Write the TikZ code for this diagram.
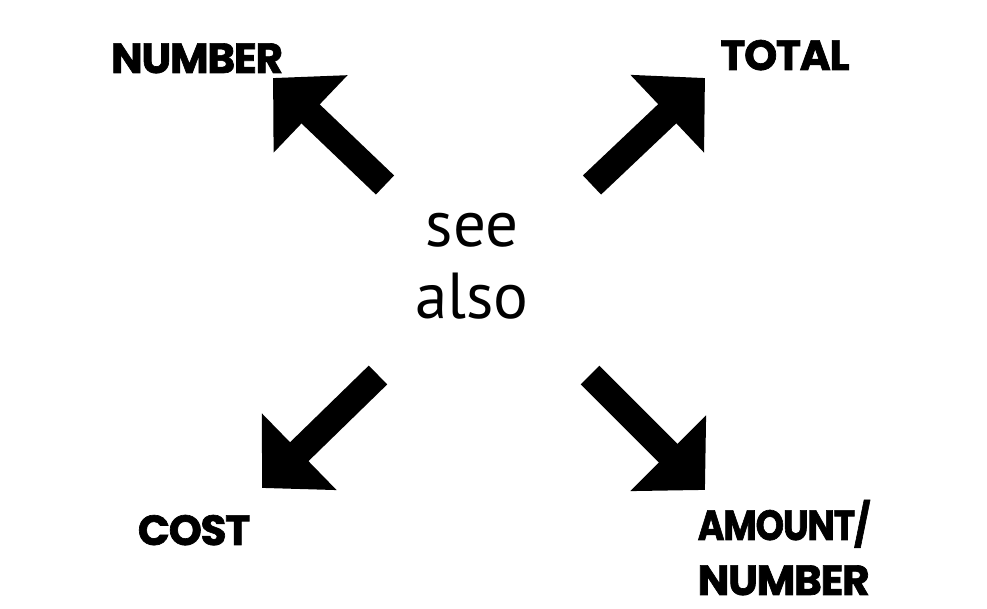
\documentclass[tikz,border=0pt]{standalone}
\usepackage{fontspec}
\setmainfont{PT Sans}
\newfontfamily\headfont{Poppins}[LetterSpace=-3,BoldFeatures={FakeBold=1.6}]
\usetikzlibrary{arrows.meta}
\definecolor{Ink}{HTML}{000000}

\begin{document}
\begin{tikzpicture}[
    wordlabel/.style={font=\headfont\bfseries\fontsize{12}{14}\selectfont,inner sep=0pt,text=Ink},
    seealso/.style={font=\fontsize{18.5}{20.5}\selectfont,align=center,inner sep=0pt,text=Ink},
    bigarrow/.style={draw=Ink,line width=7.5pt,-{Triangle[length=5.2mm,width=10.4mm]}}
  ]
  \useasboundingbox (0,0) rectangle (9.87,6.09);
  % centre words
  \node[seealso] (centre) at (4.72,3.43) {see\\also};
  % the four words round it
  \node[wordlabel,anchor=base] (number) at (1.97,5.36) {NUMBER};
  \node[wordlabel,anchor=base] (total) at (7.85,5.39) {TOTAL};
  \node[wordlabel,anchor=base] (cost) at (1.94,0.64) {COST};
  \node[wordlabel,anchor=base west] (amount) at (6.97,0.69) {\scalebox{0.86}[1]{AMOUNT/}};
  \node[wordlabel,anchor=base west] (amountnum) at (6.97,0.14) {NUMBER};
  % arrow ends
  \coordinate (nwtail) at (3.85,4.24); \coordinate (nwtip) at (2.73,5.31);
  \coordinate (netail) at (5.92,4.24); \coordinate (netip) at (7.05,5.31);
  \coordinate (swtail) at (3.78,2.34); \coordinate (swtip) at (2.62,1.21);
  \coordinate (setail) at (5.90,2.34); \coordinate (setip) at (7.05,1.19);
  \draw[bigarrow] (nwtail) -- (nwtip);
  \draw[bigarrow] (netail) -- (netip);
  \draw[bigarrow] (swtail) -- (swtip);
  \draw[bigarrow] (setail) -- (setip);
\end{tikzpicture}
\end{document}
